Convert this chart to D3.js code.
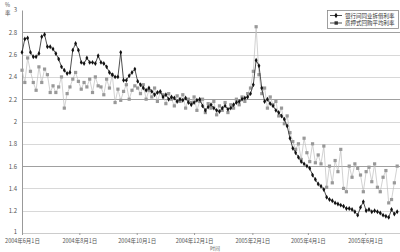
<!DOCTYPE html>
<html><head><meta charset="utf-8">
<script src="https://cdn.jsdelivr.net/npm/d3@7"></script>
<style>body{margin:0;background:#fff}svg{display:block}text{font-family:"Noto Sans CJK SC","DejaVu Sans",sans-serif}</style>
</head><body><svg id="c" width="400" height="252"></svg>
<script>
const dates = [
"2004-06-01","2004-06-04","2004-06-07","2004-06-10","2004-06-13","2004-06-16","2004-06-19","2004-06-22","2004-06-25","2004-06-28",
"2004-07-01","2004-07-04","2004-07-07","2004-07-10","2004-07-13","2004-07-16","2004-07-19","2004-07-22","2004-07-25","2004-07-28","2004-07-31",
"2004-08-03","2004-08-06","2004-08-09","2004-08-12","2004-08-15","2004-08-18","2004-08-21","2004-08-24","2004-08-27","2004-08-30",
"2004-09-02","2004-09-05","2004-09-08","2004-09-11","2004-09-14","2004-09-17","2004-09-20","2004-09-23","2004-09-26","2004-09-29",
"2004-10-02","2004-10-05","2004-10-08","2004-10-11","2004-10-14","2004-10-17","2004-10-20","2004-10-23","2004-10-26","2004-10-29",
"2004-11-01","2004-11-04","2004-11-07","2004-11-10","2004-11-13","2004-11-16","2004-11-19","2004-11-22","2004-11-25","2004-11-28",
"2004-12-01","2004-12-04","2004-12-07","2004-12-10","2004-12-13","2004-12-16","2004-12-19","2004-12-22","2004-12-25","2004-12-28","2004-12-31",
"2005-01-03","2005-01-06","2005-01-09","2005-01-12","2005-01-15","2005-01-18","2005-01-21","2005-01-24","2005-01-27","2005-01-30",
"2005-02-02","2005-02-05","2005-02-08","2005-02-11","2005-02-14","2005-02-17","2005-02-20","2005-02-23","2005-02-26",
"2005-03-01","2005-03-04","2005-03-07","2005-03-10","2005-03-13","2005-03-16","2005-03-19","2005-03-22","2005-03-25","2005-03-28","2005-03-31",
"2005-04-03","2005-04-06","2005-04-09","2005-04-12","2005-04-15","2005-04-18","2005-04-21","2005-04-24","2005-04-27","2005-04-30",
"2005-05-03","2005-05-06","2005-05-09","2005-05-12","2005-05-15","2005-05-18","2005-05-21","2005-05-24","2005-05-27","2005-05-30",
"2005-06-02","2005-06-05","2005-06-08","2005-06-11","2005-06-14","2005-06-17","2005-06-20","2005-06-23","2005-06-26","2005-06-29",
"2005-07-02","2005-07-05"];

const interbank = [
2.62,2.74,2.75,2.62,2.58,2.58,2.61,2.76,2.78,2.67,
2.67,2.65,2.61,2.56,2.49,2.46,2.43,2.44,2.64,2.70,2.64,
2.53,2.52,2.57,2.53,2.53,2.52,2.59,2.53,2.52,2.49,
2.44,2.42,2.40,2.40,2.62,2.37,2.37,2.41,2.44,2.47,
2.36,2.33,2.30,2.28,2.30,2.27,2.24,2.26,2.27,2.22,
2.24,2.20,2.22,2.21,2.18,2.20,2.19,2.21,2.17,2.15,
2.17,2.19,2.20,2.14,2.10,2.13,2.15,2.12,2.10,2.09,2.12,
2.14,2.11,2.12,2.15,2.17,2.18,2.20,2.21,2.22,2.25,
2.33,2.55,2.50,2.30,2.18,2.20,2.16,2.14,2.10,
2.08,2.05,2.02,1.96,1.85,1.76,1.72,1.68,1.64,1.62,1.60,
1.58,1.52,1.48,1.44,1.42,1.39,1.32,1.30,1.29,1.27,
1.26,1.25,1.24,1.22,1.22,1.21,1.19,1.16,1.23,1.28,
1.20,1.21,1.19,1.20,1.19,1.18,1.16,1.15,1.14,1.21,
1.17,1.19];

const repo = [
2.46,2.35,2.57,2.45,2.35,2.28,2.49,2.35,2.47,2.42,
2.26,2.32,2.26,2.31,2.40,2.12,2.25,2.31,2.38,2.44,2.36,
2.29,2.35,2.31,2.38,2.26,2.40,2.32,2.31,2.24,2.38,
2.30,2.42,2.17,2.29,2.19,2.27,2.33,2.20,2.28,2.32,
2.30,2.25,2.33,2.20,2.28,2.22,2.30,2.18,2.26,2.24,
2.16,2.25,2.20,2.14,2.23,2.18,2.24,2.12,2.20,2.17,
2.22,2.10,2.18,2.20,2.08,2.16,2.12,2.18,2.06,2.14,2.10,
2.17,2.08,2.15,2.12,2.20,2.15,2.22,2.18,2.25,2.30,
2.45,2.85,2.42,2.25,2.30,2.12,2.22,2.15,2.18,
2.05,2.12,1.98,2.05,1.90,1.82,1.75,1.80,1.66,1.85,1.72,
1.64,1.80,1.63,1.70,1.62,1.78,1.41,1.60,1.45,1.65,
1.55,1.75,1.40,1.37,1.60,1.50,1.62,1.58,1.52,1.37,
1.55,1.59,1.46,1.62,1.41,1.37,1.50,1.56,1.27,1.30,
1.45,1.60];

const yTicks = [1,1.2,1.4,1.6,1.8,2,2.2,2.4,2.6,2.8,3];
const xTickDates = ["2004-06-01","2004-08-01","2004-10-01","2004-12-01","2005-02-01","2005-04-01","2005-06-01"];
const xTickLabels = ["2004年6月1日","2004年8月1日","2004年10月1日","2004年12月1日","2005年2月1日","2005年4月1日","2005年6月1日"];
const seriesNames = ["银行间同业拆借利率","质押式回购平均利率"];

const parse = d3.timeParse("%Y-%m-%d");
const svg = d3.select("#c");
const L = 22, R = 400, T = 10, B = 233;
const x = d3.scaleTime().domain([parse("2004-06-01"), parse("2005-07-08")]).range([L, R]);
const y = d3.scaleLinear().domain([1, 3]).range([B, T]);

// gridlines
const dark = new Set([2.8, 2.2, 1.6]);
svg.append("g").selectAll("line").data(yTicks.filter(v => v > 1 && v < 3)).join("line")
  .attr("x1", L).attr("x2", R).attr("y1", d => Math.round(y(d)) + 0.5).attr("y2", d => Math.round(y(d)) + 0.5)
  .attr("stroke", d => dark.has(d) ? "#a0a0a0" : "#d8d8d8").attr("stroke-width", 1);

// y axis
const ya = d3.axisLeft(y).tickValues(yTicks).tickFormat(d3.format("~g")).tickSize(0).tickPadding(5);
const gy = svg.append("g").attr("transform", `translate(${L},0)`).call(ya);
gy.select(".domain").attr("stroke", "#999");
gy.selectAll("text").attr("font-size", 6).attr("fill", "#555").attr("font-family", "Liberation Serif, serif");
gy.selectAll(".tick").filter(d => d === 1).select("text").attr("dy", "0.1em");

// x axis
const xa = d3.axisBottom(x).tickValues(xTickDates.map(parse)).tickFormat((d, i) => xTickLabels[i]).tickSize(2).tickPadding(4);
const gx = svg.append("g").attr("transform", `translate(0,${B})`).call(xa);
gx.select(".domain").attr("stroke", "#ccc");
gx.selectAll(".tick line").attr("stroke", "#999");
gx.selectAll("text").attr("font-size", 5.5).attr("fill", "#555");

// series
const data = dates.map((d, i) => ({ d: parse(d), a: interbank[i], b: repo[i] }));
const lineB = d3.line().x(p => x(p.d)).y(p => y(p.b));
const lineA = d3.line().x(p => x(p.d)).y(p => y(p.a));
svg.append("path").datum(data).attr("d", lineB).attr("fill", "none").attr("stroke", "#bdbdbd").attr("stroke-width", 0.7);
svg.append("g").selectAll("rect").data(data).join("rect")
  .attr("x", p => x(p.d) - 1.6).attr("y", p => y(p.b) - 1.6).attr("width", 3.2).attr("height", 3.2).attr("fill", "#999");
svg.append("path").datum(data).attr("d", lineA).attr("fill", "none").attr("stroke", "#222").attr("stroke-width", 0.8);
const diamond = d3.symbol().type(d3.symbolDiamond).size(7);
svg.append("g").selectAll("path").data(data).join("path")
  .attr("transform", p => `translate(${x(p.d)},${y(p.a)})`).attr("d", diamond).attr("fill", "#111");

// legend
const lg = svg.append("g");
lg.append("rect").attr("x", 327.5).attr("y", 10.5).attr("width", 71).attr("height", 18).attr("fill", "#fff").attr("stroke", "#888").attr("stroke-width", 0.8);
[0, 1].forEach(i => {
  const yy = 15.5 + i * 7.5;
  lg.append("line").attr("x1", 330).attr("x2", 342).attr("y1", yy).attr("y2", yy).attr("stroke", "#222").attr("stroke-width", 0.8);
  if (i === 0) lg.append("path").attr("transform", `translate(336,${yy})`).attr("d", d3.symbol().type(d3.symbolDiamond).size(9)).attr("fill", "#111");
  else lg.append("rect").attr("x", 334.5).attr("y", yy - 1.7).attr("width", 3.4).attr("height", 3.4).attr("fill", "#333");
  lg.append("text").attr("x", 345).attr("y", yy + 2).attr("font-size", 5.5).attr("fill", "#333").text(seriesNames[i]);
});

// axis titles
svg.append("text").attr("x", 5).attr("y", 7).attr("font-size", 5.5).attr("fill", "#555").text("%");
svg.append("text").attr("x", 5).attr("y", 15).attr("font-size", 5.5).attr("fill", "#555").text("率");
svg.append("text").attr("x", 215).attr("y", 250).attr("font-size", 5).attr("fill", "#666").attr("text-anchor", "middle").text("时间");
</script></body></html>
